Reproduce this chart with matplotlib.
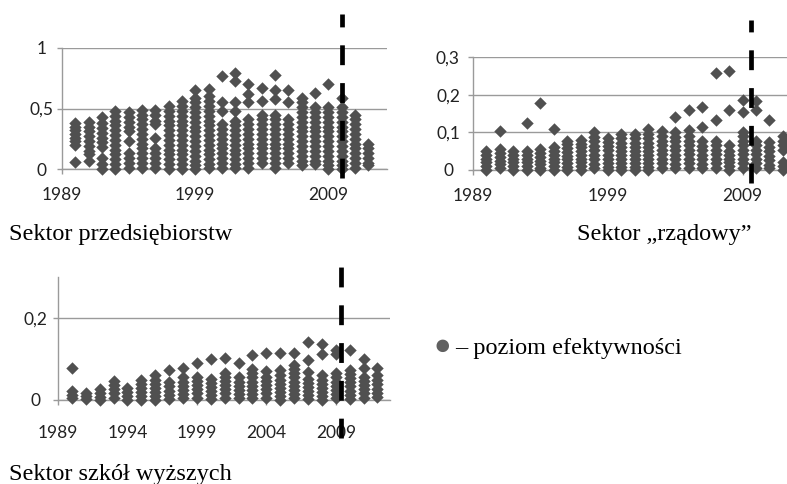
"""Efektywność sektorów B+R w latach 1990-2012: trzy wykresy punktowe
z linią przerywaną oznaczającą rok graniczny."""

import matplotlib
matplotlib.use("Agg")
import matplotlib.pyplot as plt

years = [1990, 1991, 1992, 1993, 1994, 1995, 1996, 1997, 1998, 1999, 2000, 2001,
         2002, 2003, 2004, 2005, 2006, 2007, 2008, 2009, 2010, 2011, 2012]

# poziom efektywności - sektor przedsiębiorstw (punkty na rok)
firms = [
    [0.38, 0.35, 0.32, 0.29, 0.26, 0.23, 0.20, 0.06],
    [0.39, 0.35, 0.31, 0.27, 0.23, 0.19, 0.15, 0.12, 0.07],
    [0.43, 0.38, 0.34, 0.30, 0.26, 0.22, 0.18, 0.09, 0.04, 0.0],
    [0.48, 0.44, 0.40, 0.36, 0.32, 0.28, 0.24, 0.20, 0.16, 0.12, 0.08, 0.04, 0.0],
    [0.47, 0.43, 0.39, 0.35, 0.31, 0.23, 0.13, 0.09, 0.05, 0.01],
    [0.49, 0.45, 0.41, 0.37, 0.33, 0.29, 0.25, 0.21, 0.17, 0.13, 0.09, 0.05, 0.01],
    [0.49, 0.45, 0.40, 0.37, 0.26, 0.17, 0.13, 0.09, 0.05, 0.01],
    [0.52, 0.48, 0.44, 0.40, 0.36, 0.32, 0.28, 0.24, 0.20, 0.16, 0.12, 0.08, 0.04, 0.0],
    [0.56, 0.52, 0.48, 0.44, 0.40, 0.36, 0.32, 0.28, 0.24, 0.20, 0.16, 0.12, 0.08, 0.04, 0.0],
    [0.65, 0.59, 0.55, 0.51, 0.47, 0.43, 0.39, 0.35, 0.31, 0.27, 0.23, 0.19, 0.15, 0.11, 0.07, 0.03, 0.0],
    [0.66, 0.60, 0.56, 0.52, 0.48, 0.44, 0.40, 0.36, 0.32, 0.28, 0.24, 0.20, 0.16, 0.12, 0.08, 0.04, 0.01],
    [0.77, 0.55, 0.48, 0.37, 0.33, 0.29, 0.25, 0.21, 0.17, 0.13, 0.09, 0.05, 0.01],
    [0.79, 0.73, 0.55, 0.48, 0.40, 0.36, 0.32, 0.28, 0.24, 0.20, 0.16, 0.12, 0.08, 0.04, 0.01],
    [0.70, 0.62, 0.55, 0.41, 0.37, 0.33, 0.29, 0.25, 0.21, 0.17, 0.13, 0.09, 0.05, 0.01],
    [0.67, 0.56, 0.45, 0.41, 0.37, 0.33, 0.29, 0.25, 0.21, 0.17, 0.13, 0.09, 0.05],
    [0.78, 0.65, 0.58, 0.45, 0.41, 0.37, 0.33, 0.29, 0.25, 0.21, 0.17, 0.13, 0.09, 0.05, 0.01],
    [0.65, 0.55, 0.41, 0.37, 0.33, 0.29, 0.25, 0.21, 0.17, 0.13, 0.09, 0.05],
    [0.59, 0.55, 0.51, 0.47, 0.43, 0.39, 0.35, 0.31, 0.27, 0.23, 0.19, 0.15, 0.11, 0.07, 0.03],
    [0.63, 0.51, 0.47, 0.43, 0.39, 0.35, 0.31, 0.27, 0.23, 0.19, 0.15, 0.11, 0.07, 0.04],
    [0.70, 0.51, 0.47, 0.43, 0.39, 0.35, 0.31, 0.27, 0.23, 0.19, 0.15, 0.11, 0.07, 0.03, 0.0],
    [0.59, 0.51, 0.47, 0.43, 0.39, 0.35, 0.31, 0.27, 0.23, 0.19, 0.15, 0.11, 0.07, 0.03, 0.0],
    [0.45, 0.41, 0.37, 0.33, 0.29, 0.25, 0.21, 0.17, 0.13, 0.09, 0.05, 0.01],
    [0.21, 0.17, 0.13, 0.09, 0.05, 0.03],
]

# sektor rządowy
gov = [
    [0.05, 0.04, 0.03, 0.02, 0.01, 0.0],
    [0.104, 0.055, 0.045, 0.035, 0.025, 0.015, 0.005],
    [0.05, 0.04, 0.03, 0.02, 0.01, 0.0],
    [0.124, 0.05, 0.04, 0.03, 0.02, 0.01, 0.0],
    [0.178, 0.055, 0.045, 0.035, 0.025, 0.015, 0.005, 0.0],
    [0.109, 0.06, 0.05, 0.04, 0.03, 0.02, 0.01, 0.0],
    [0.078, 0.068, 0.058, 0.048, 0.038, 0.028, 0.018, 0.008, 0.0],
    [0.08, 0.07, 0.06, 0.05, 0.04, 0.03, 0.02, 0.01, 0.0],
    [0.10, 0.088, 0.076, 0.064, 0.052, 0.04, 0.028, 0.016, 0.004],
    [0.085, 0.074, 0.063, 0.052, 0.041, 0.03, 0.019, 0.008, 0.0],
    [0.095, 0.084, 0.073, 0.062, 0.051, 0.04, 0.029, 0.018, 0.007, 0.0],
    [0.095, 0.084, 0.073, 0.062, 0.051, 0.04, 0.029, 0.018, 0.007, 0.0],
    [0.11, 0.095, 0.084, 0.073, 0.062, 0.051, 0.04, 0.029, 0.018, 0.007, 0.0],
    [0.104, 0.09, 0.078, 0.066, 0.054, 0.042, 0.03, 0.018, 0.006],
    [0.142, 0.10, 0.088, 0.076, 0.064, 0.052, 0.04, 0.028, 0.016, 0.004],
    [0.158, 0.105, 0.09, 0.078, 0.066, 0.054, 0.042, 0.03, 0.018, 0.006],
    [0.166, 0.114, 0.076, 0.064, 0.052, 0.04, 0.028, 0.016, 0.004],
    [0.257, 0.134, 0.078, 0.066, 0.054, 0.042, 0.03, 0.018, 0.006],
    [0.262, 0.158, 0.067, 0.05, 0.04, 0.03, 0.02, 0.01, 0.0],
    [0.186, 0.154, 0.10, 0.09, 0.078, 0.066, 0.054, 0.042, 0.03, 0.018, 0.006],
    [0.182, 0.158, 0.078, 0.066, 0.054, 0.042, 0.03, 0.018, 0.006],
    [0.134, 0.074, 0.062, 0.05, 0.038, 0.026, 0.014, 0.004],
    [0.09, 0.078, 0.066, 0.054, 0.02, 0.01, 0.0],
]

# sektor szkół wyższych
univ = [
    [0.077, 0.022, 0.012, 0.004],
    [0.018, 0.01, 0.002],
    [0.028, 0.018, 0.008, 0.0],
    [0.046, 0.036, 0.026, 0.016, 0.006],
    [0.03, 0.02, 0.01, 0.0],
    [0.05, 0.04, 0.03, 0.02, 0.01, 0.0],
    [0.06, 0.05, 0.04, 0.03, 0.02, 0.01, 0.0],
    [0.073, 0.043, 0.033, 0.023, 0.013, 0.003],
    [0.078, 0.055, 0.045, 0.035, 0.025, 0.015, 0.005],
    [0.09, 0.056, 0.046, 0.036, 0.026, 0.016, 0.006],
    [0.099, 0.052, 0.042, 0.032, 0.022, 0.012, 0.002],
    [0.103, 0.066, 0.056, 0.046, 0.036, 0.026, 0.016, 0.006],
    [0.09, 0.055, 0.045, 0.035, 0.025, 0.015, 0.005],
    [0.109, 0.075, 0.065, 0.055, 0.045, 0.035, 0.025, 0.015, 0.005],
    [0.115, 0.071, 0.056, 0.046, 0.036, 0.026, 0.016, 0.006],
    [0.115, 0.073, 0.06, 0.05, 0.04, 0.03, 0.02, 0.01, 0.0],
    [0.115, 0.085, 0.075, 0.065, 0.055, 0.045, 0.035, 0.025, 0.015, 0.005],
    [0.141, 0.098, 0.069, 0.052, 0.042, 0.032, 0.022, 0.012, 0.002],
    [0.137, 0.113, 0.06, 0.05, 0.04, 0.03, 0.02, 0.01, 0.0],
    [0.121, 0.113, 0.065, 0.055, 0.045, 0.035, 0.025, 0.015, 0.005],
    [0.123, 0.073, 0.063, 0.053, 0.043, 0.033, 0.023, 0.013, 0.003],
    [0.10, 0.077, 0.056, 0.046, 0.036, 0.026, 0.016, 0.006],
    [0.077, 0.06, 0.048, 0.038, 0.028, 0.018, 0.008],
]

# rok graniczny (linia przerywana) na każdym wykresie
cut_firms = 2010.0
cut_gov = 2009.6
cut_univ = 2009.4

firms_yticks = [0, 0.5, 1]
firms_ylabels = ["0", "0,5", "1"]
gov_yticks = [0, 0.1, 0.2, 0.3]
gov_ylabels = ["0", "0,1", "0,2", "0,3"]
univ_yticks = [0, 0.2]
univ_ylabels = ["0", "0,2"]
xticks_big = [1989, 1999, 2009]
xticks_small = [1989, 1994, 1999, 2004, 2009]

W, H = 787, 484
dot_color = "#505050"
axis_color = "#9a9a9a"
tick_font = "Lato"
serif = ["Liberation Serif", "DejaVu Serif"]

fig = plt.figure(figsize=(W / 100, H / 100), dpi=100)


def px_rect(left, top, right, bottom):
    # pixel box -> figure fraction
    return [left / W, 1 - bottom / H, (right - left) / W, (bottom - top) / H]


def draw_panel(rect, values, xlim, ylim, yticks, ylabels, xticks, cut, span, xpad, ypad):
    ax = fig.add_axes(rect)
    for year, vals in zip(years, values):
        ax.scatter([year] * len(vals), vals, marker="D", s=40, color=dot_color,
                   linewidths=0, clip_on=False, zorder=3)

    ax.set_xlim(*xlim)
    ax.set_ylim(*ylim)
    ax.set_yticks(yticks)
    ax.set_yticklabels(ylabels)
    ax.set_xticks(xticks)
    ax.set_xticklabels([str(x) for x in xticks])

    ax.yaxis.grid(True, color=axis_color, linewidth=1.0)
    ax.set_axisbelow(True)
    for side in ["top", "right"]:
        ax.spines[side].set_visible(False)
    for side in ["left", "bottom"]:
        ax.spines[side].set_color(axis_color)
        ax.spines[side].set_linewidth(1.0)
        ax.spines[side].set_zorder(2)

    ax.tick_params(axis="both", direction="out", length=3.5, width=1.0,
                   color=axis_color, labelcolor="#222222", labelsize=12.5)
    ax.tick_params(axis="x", pad=xpad)
    ax.tick_params(axis="y", pad=ypad)
    for lbl in ax.get_xticklabels() + ax.get_yticklabels():
        lbl.set_fontfamily(tick_font)
    for lbl in ax.get_yticklabels():
        lbl.set_horizontalalignment("center")

    # linia przerywana - wychodzi poza obszar wykresu
    ax.axvline(cut, ymin=span[0], ymax=span[1], color="black", linewidth=3.4,
               dashes=(4.2, 3.8), dash_capstyle="butt", clip_on=False, zorder=5)
    return ax


draw_panel(px_rect(62, 48, 387, 169), firms, (1989, 2013.4), (0, 1),
           firms_yticks, firms_ylabels, xticks_big, cut_firms, (-0.075, 1.28), 9.5, 11.0)
draw_panel(px_rect(473, 57, 787, 170), gov, (1989, 2012.3), (0, 0.3),
           gov_yticks, gov_ylabels, xticks_big, cut_gov, (-0.115, 1.33), 9.5, 14.5)
draw_panel(px_rect(58, 277, 390, 400), univ, (1989, 2012.9), (0, 0.3),
           univ_yticks, univ_ylabels, xticks_small, cut_univ, (-0.31, 1.10), 14.5, 12.5)

# podpisy pod wykresami
fig.text(9 / W, 1 - 240 / H, "Sektor przedsiębiorstw", family=serif, fontsize=17.5, va="baseline")
fig.text(577 / W, 1 - 240 / H, "Sektor \u201erządowy\u201d", family=serif, fontsize=17.5, va="baseline")
fig.text(9 / W, 1 - 480 / H, "Sektor szkół wyższych", family=serif, fontsize=17.5, va="baseline")

# legenda
fig.text(442 / W, 1 - 347 / H, "\u25cf", family=serif + ["DejaVu Sans"], fontsize=21,
         color="#606060", ha="center", va="center")
fig.text(455 / W, 1 - 354 / H, "\u2013 poziom efektywności", family=serif, fontsize=17.5,
         va="baseline")

fig.savefig("out.png", dpi=100)
